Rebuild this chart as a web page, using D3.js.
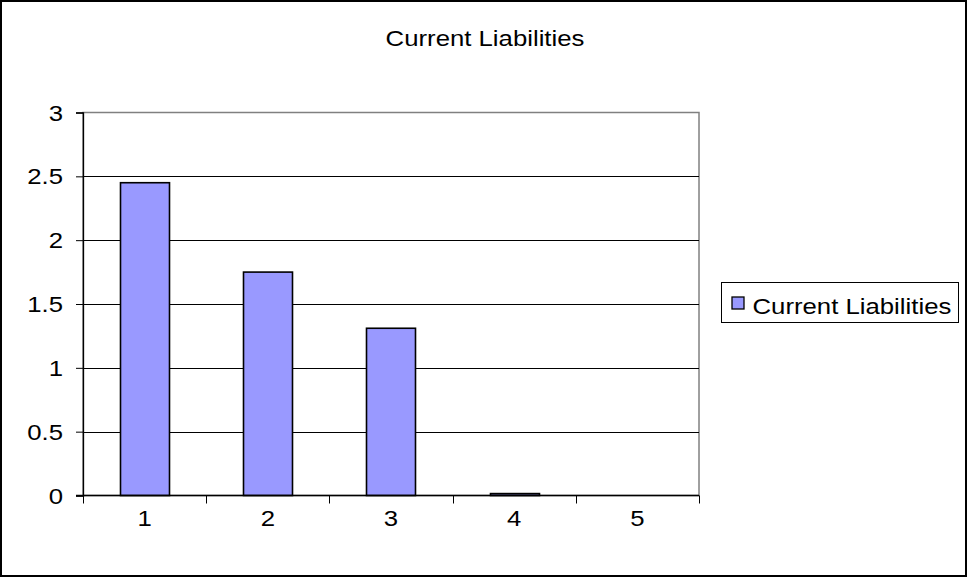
<!DOCTYPE html>
<html>
<head>
<meta charset="utf-8">
<script src="https://cdn.jsdelivr.net/npm/d3@7"></script>
<style>
  html, body { margin: 0; padding: 0; background: #fff; }
  svg { display: block; }
  text { font-family: "Liberation Sans", Arial, sans-serif; fill: #000; }
</style>
</head>
<body>
<svg id="chart" width="967" height="577"></svg>
<script>
const categories = ["1", "2", "3", "4", "5"];
const values = [2.45, 1.75, 1.31, 0.015, 0];
const yTicks = [0, 0.5, 1, 1.5, 2, 2.5, 3];
const seriesName = "Current Liabilities";
const chartTitle = "Current Liabilities";

const W = 967, H = 577;
const plot = { left: 83, right: 699, top: 112.5, bottom: 495.5 };
const FONT = 22;      // label font size
const SX = 1.17;      // horizontal stretch of the label face

const svg = d3.select("#chart");

// places a horizontally stretched text at (x, y)
function stretchedText(sel, x, y) {
  return sel.attr("x", 0).attr("y", 0)
    .attr("transform", `translate(${x},${y}) scale(${SX},1)`)
    .attr("font-size", FONT);
}

// outer chart frame
svg.append("rect")
  .attr("x", 1).attr("y", 1).attr("width", W - 2).attr("height", H - 2)
  .attr("fill", "#fff").attr("stroke", "#000").attr("stroke-width", 2);

const x = d3.scaleBand().domain(categories)
  .range([plot.left, plot.right]).paddingInner(0.6).paddingOuter(0.3);
const xOuter = d3.scaleBand().domain(categories).range([plot.left, plot.right]);
const y = d3.scaleLinear().domain([0, 3]).range([plot.bottom, plot.top]);

// plot area border
svg.append("rect")
  .attr("x", plot.left).attr("y", plot.top)
  .attr("width", plot.right - plot.left).attr("height", plot.bottom - plot.top)
  .attr("fill", "none").attr("stroke", "#808080").attr("stroke-width", 1.5);

// horizontal gridlines
svg.append("g").selectAll("line")
  .data(yTicks.filter(d => d > 0 && d < 3))
  .join("line")
  .attr("x1", plot.left).attr("x2", plot.right)
  .attr("y1", d => Math.round(y(d)) + 0.5).attr("y2", d => Math.round(y(d)) + 0.5)
  .attr("stroke", "#000").attr("stroke-width", 1);

// bars
svg.append("g").selectAll("rect")
  .data(values.map((v, i) => ({ c: categories[i], v })).filter(d => d.v > 0))
  .join("rect")
  .attr("x", d => Math.round(x(d.c)) + 0.5)
  .attr("width", Math.round(x.bandwidth()))
  .attr("y", d => y(d.v))
  .attr("height", d => y(0) - y(d.v))
  .attr("fill", "#9999FF").attr("stroke", "#000").attr("stroke-width", 1.6);

// y axis
const yAxis = d3.axisLeft(y).tickValues(yTicks).tickSize(7).tickFormat(() => "");
const gy = svg.append("g").attr("transform", `translate(${plot.left},0)`).call(yAxis);
gy.select(".domain").attr("stroke", "#000").attr("stroke-width", 1.3);
gy.selectAll(".tick line").attr("stroke", "#000");
svg.append("g").selectAll("text").data(yTicks).join("text")
  .each(function (d) {
    stretchedText(d3.select(this), plot.left - 20, y(d) + 8);
  })
  .attr("text-anchor", "end")
  .text(d => d3.format("~g")(d));

// x axis: ticks at category boundaries, labels centered in each band
const gx = svg.append("g").attr("transform", `translate(0,${plot.bottom})`);
gx.append("line").attr("x1", plot.left - 7).attr("x2", plot.right)
  .attr("y1", 0).attr("y2", 0).attr("stroke", "#000").attr("stroke-width", 1.3);
const bounds = categories.map(c => xOuter(c)).concat([plot.right]);
gx.selectAll("line.tk").data(bounds).join("line").attr("class", "tk")
  .attr("x1", d => Math.round(d) + 0.5).attr("x2", d => Math.round(d) + 0.5)
  .attr("y1", 0).attr("y2", 8).attr("stroke", "#000");
gx.selectAll("text").data(categories).join("text")
  .each(function (d) {
    stretchedText(d3.select(this), xOuter(d) + xOuter.bandwidth() / 2, 30);
  })
  .attr("text-anchor", "middle")
  .text(d => d);

// title
svg.append("text").call(s => stretchedText(s, 485, 46))
  .attr("text-anchor", "middle").text(chartTitle);

// legend
const lg = svg.append("g").attr("transform", "translate(721.5,282.5)");
lg.append("rect").attr("width", 237).attr("height", 40)
  .attr("fill", "#fff").attr("stroke", "#000").attr("stroke-width", 1);
lg.append("rect").attr("x", 10.5).attr("y", 14.5).attr("width", 12).attr("height", 12)
  .attr("fill", "#9999FF").attr("stroke", "#000").attr("stroke-width", 1.3);
lg.append("text").call(s => stretchedText(s, 31, 31)).text(seriesName);
</script>
</body>
</html>
